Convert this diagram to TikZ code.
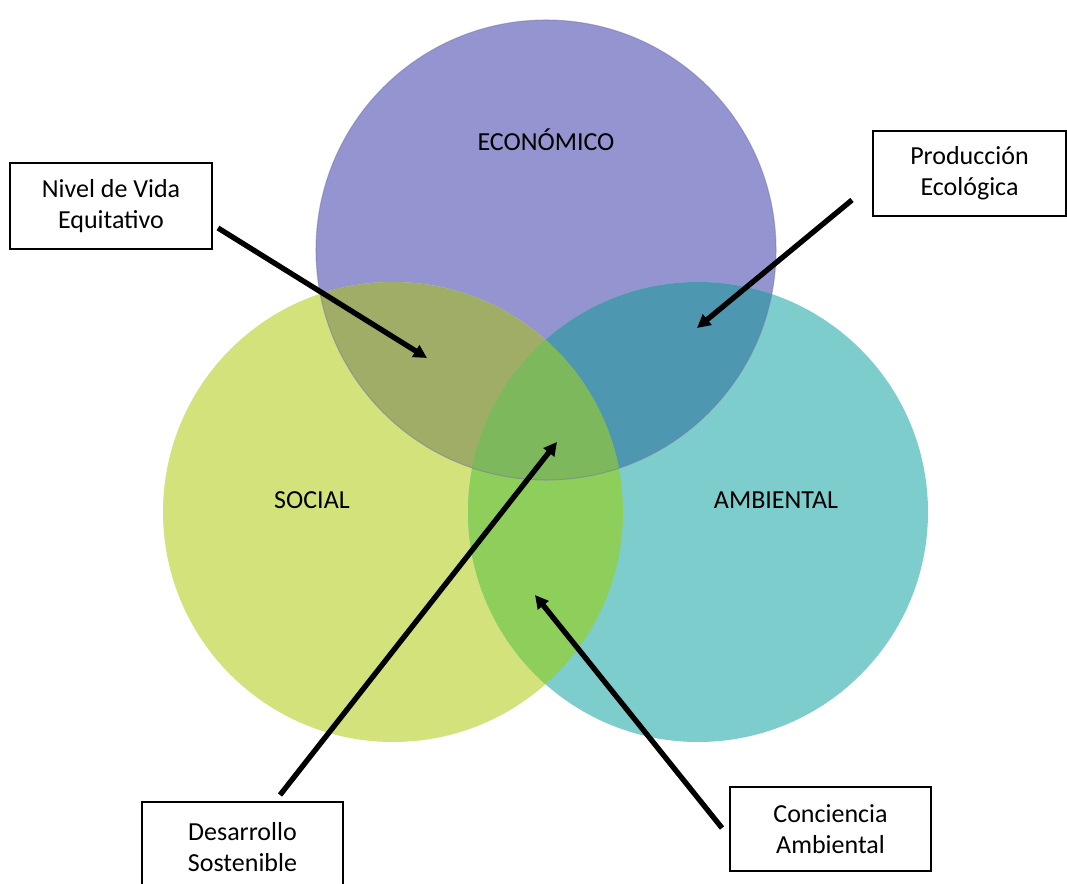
\documentclass[tikz,border=0pt]{standalone}
\usepackage{fontspec}
\setmainfont{Carlito}
\usetikzlibrary{arrows.meta}
\definecolor{cE}{HTML}{9494D0}
\definecolor{cS}{HTML}{D3E27A}
\definecolor{cA}{HTML}{7CCDCB}
\definecolor{cES}{HTML}{A0AD66}
\definecolor{cEA}{HTML}{4E97B0}
\definecolor{cSA}{HTML}{8ECF5C}
\definecolor{cESA}{HTML}{7DB95C}
\tikzset{
  lbl/.style={font=\fontsize{19.5pt}{23.25pt}\selectfont, inner sep=0pt},
  infobox/.style={draw=black, line width=0.8pt, fill=white, inner sep=0pt, align=center,
    font=\fontsize{19.5pt}{23.25pt}\selectfont},
  arr/.style={line width=4pt, -{Triangle[length=10pt,width=10pt]}, black}
}
\begin{document}
\begin{tikzpicture}[x=0.75pt,y=-0.75pt]
\useasboundingbox (0,0) rectangle (1067,884);
\fill[white] (0,0) rectangle (1067,884);
% circles
\def\cE{(546,250) circle[radius=230]}
\def\cS{(393,512) circle[radius=230]}
\def\cA{(698,512) circle[radius=230]}
\fill[cE] \cE;
\fill[cS] \cS;
\fill[cA] \cA;
\begin{scope}\clip \cE; \fill[cES] \cS; \end{scope}
\begin{scope}\clip \cE; \fill[cEA] \cA; \end{scope}
\begin{scope}\clip \cS; \fill[cSA] \cA; \end{scope}
\begin{scope}\clip \cE; \clip \cS; \fill[cESA] \cA; \end{scope}
\draw[cE!80!black, line width=0.8pt, opacity=0.5] \cE;
% labels
\node[lbl] (eco) at (546,140) {ECONÓMICO};
\node[lbl] (soc) at (312,500) {SOCIAL};
\node[lbl] (amb) at (776,500) {AMBIENTAL};
% boxes
\node[infobox, minimum width=151.5pt, minimum height=64.5pt] (nivel) at (111,206) {Nivel de Vida\\Equitativo};
\node[infobox, minimum width=144.75pt, minimum height=63.75pt] (prod) at (969.5,173.5) {Producción\\Ecológica};
\node[infobox, minimum width=150.75pt, minimum height=67.5pt] (desa) at (242.5,847) {Desarrollo\\Sostenible};
\node[infobox, minimum width=150.75pt, minimum height=63pt] (conc) at (830.5,829) {Conciencia\\Ambiental};
% arrow end points
\coordinate (nivS) at (218,228);
\coordinate (nivT) at (427,358);
\coordinate (proS) at (852,200);
\coordinate (proT) at (697,328);
\coordinate (desS) at (280,795);
\coordinate (desT) at (557,442);
\coordinate (conS) at (722,828);
\coordinate (conT) at (535,595);
\draw[arr] (nivS) -- (nivT);
\draw[arr] (proS) -- (proT);
\draw[arr] (desS) -- (desT);
\draw[arr] (conS) -- (conT);
\end{tikzpicture}
\end{document}
